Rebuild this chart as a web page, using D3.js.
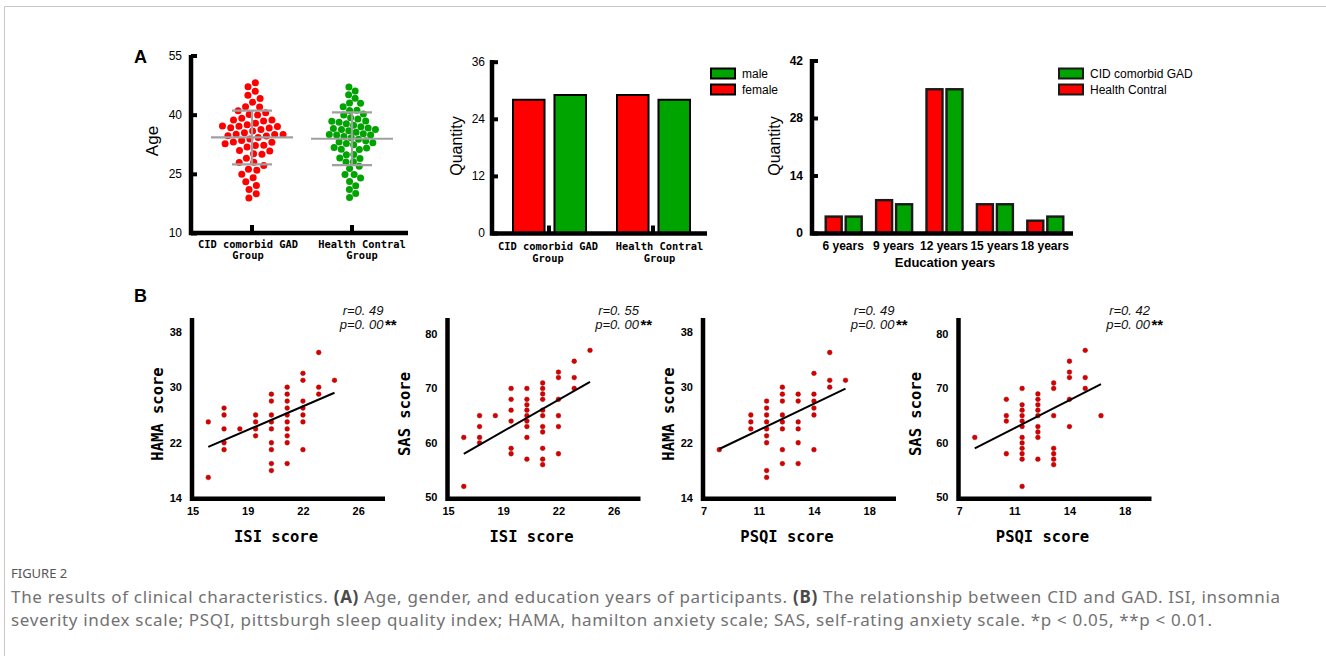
<!DOCTYPE html>
<html>
<head>
<meta charset="utf-8">
<script src="https://cdn.jsdelivr.net/npm/d3@7"></script>
<style>
  body { margin: 0; background: #fff; }
  svg { display: block; }
</style>
</head>
<body>
<script>
// ---- data ----
const groups = ['CID comorbid GAD', 'Health Contral']
const groupLines = [['CID comorbid GAD', 'Group'], ['Health Contral', 'Group']]

// ages of participants (panel A, left)
const ageCID = [19, 20, 21, 22, 23, 24, 25, 26, 26, 27, 28, 28, 29, 30, 30,
  31, 31, 32, 32, 33, 33, 34, 34, 34, 35, 35, 35, 35, 35, 35, 35, 36, 36, 36,
  37, 37, 37, 37, 38, 38, 38, 39, 39, 40, 40, 41, 42, 42, 43, 44, 45, 46, 47, 48, 38, 36, 34]
const ageHC = [19, 20, 21, 22, 23, 24, 25, 25, 26, 27, 28, 28, 29, 29, 30, 30, 31,
  31, 32, 32, 33, 33, 33, 34, 34, 35, 35, 35, 35, 35, 35, 35, 35, 36, 36, 36, 36,
  37, 37, 37, 38, 38, 38, 39, 40, 40, 41, 41, 42, 43, 43, 44, 45, 46, 47, 39, 34]
const ageTicks = [10, 25, 40, 55]

// gender (panel A, middle)
const genderKeys = ['female', 'male']
const female = [28, 29]
const male = [29, 28]
const qtyTicks = [0, 12, 24, 36]

// education (panel A, right)
const eduCats = ['6 years', '9 years', '12 years', '15 years', '18 years']
const eduHC = [4, 8, 35, 7, 3]
const eduCID = [4, 7, 35, 7, 4]
const eduTicks = [0, 14, 28, 42]

// correlations (panel B): [x, y]
const isiHama = [[16,25],[16,17],[17,27],[17,26],[17,24],[17,22],[17,21],[18,24],
  [19,26],[19,25],[19,24],[19,23],[20,29],[20,28],[20,26],[20,25],[20,24],[20,22],
  [20,21],[20,19],[20,18],[21,30],[21,29],[21,28],[21,27],[21,26],[21,25],[21,24],
  [21,23],[21,22],[21,19],[22,32],[22,31],[22,28],[22,27],[22,26],[22,25],[22,21],
  [23,35],[23,30],[23,29],[24,31]]
const isiSas = [[16,61],[16,52],[17,65],[17,63],[17,61],[17,60],[18,65],
  [19,70],[19,68],[19,66],[19,64],[19,59],[19,58],
  [20,70],[20,68],[20,67],[20,66],[20,65],[20,64],[20,63],[20,61],[20,57],
  [21,71],[21,70],[21,69],[21,68],[21,66],[21,65],[21,63],[21,62],[21,59],[21,57],[21,56],
  [22,73],[22,72],[22,68],[22,65],[22,63],[22,58],[23,75],[23,72],[23,70],[24,77]]
const psqiHama = [[8,21],[10,26],[10,25],[10,24],
  [11,28],[11,27],[11,26],[11,25],[11,24],[11,23],[11,22],[11,18],[11,17],
  [12,30],[12,29],[12,28],[12,26],[12,25],[12,24],[12,21],[12,19],
  [13,29],[13,28],[13,25],[13,24],[13,22],[13,19],
  [14,32],[14,29],[14,28],[14,27],[14,26],[14,21],[15,35],[15,31],[15,30],[16,31]]
const psqiSas = [[8,61],[10,68],[10,65],[10,64],[10,58],
  [11,70],[11,67],[11,66],[11,65],[11,64],[11,63],[11,61],[11,60],[11,59],[11,58],[11,57],[11,52],
  [12,69],[12,68],[12,67],[12,66],[12,65],[12,63],[12,62],[12,61],[12,57],
  [13,71],[13,70],[13,65],[13,59],[13,58],[13,57],[13,56],
  [14,75],[14,73],[14,72],[14,68],[14,63],[15,77],[15,72],[15,70],[16,65]]

// fitted lines: [[x start, y start], [x end, y end]]
const fitIsiHama = [[16, 21.4], [24, 29.2]]
const fitIsiSas = [[16, 58.0], [24, 71.2]]
const fitPsqiHama = [[8, 21.1], [16, 29.8]]
const fitPsqiSas = [[8, 59.0], [16, 70.8]]

const isiTicks = [15, 18.5, 22, 25.5]
const psqiTicks = [7, 10.5, 14, 17.5]
const hamaTicks = [14, 22, 30, 38]
const sasTicks = [50, 60, 70, 80]
const rLabels = ['r=0. 49', 'r=0. 55', 'r=0. 49', 'r=0. 42']
const pLabels = ['p=0. 00', 'p=0. 00', 'p=0. 00', 'p=0. 00']

const captionTitle = 'FIGURE 2'
const captionLines = [
  [['The results of clinical characteristics. ', 0], ['(A)', 1],
   [' Age, gender, and education years of participants. ', 0], ['(B)', 1],
   [' The relationship between CID and GAD. ISI, insomnia', 0]],
  [['severity index scale; PSQI, pittsburgh sleep quality index; HAMA, hamilton anxiety scale; SAS, self-rating anxiety scale. *p < 0.05, **p < 0.01.', 0]]
]

// ---- style ----
const RED = '#ff0000'
const GREEN = '#00a400'
const SANS = '"Liberation Sans", Arial, sans-serif'
const MONO = '"DejaVu Sans Mono", monospace'
const AXW = 4.5

const svg = d3.select('body').append('svg').attr('width', 1326).attr('height', 656)
svg.append('rect').attr('width', 1326).attr('height', 656).attr('fill', '#fff')
svg.append('path').attr('d', 'M4.5,656V6.5H1326').attr('fill', 'none').attr('stroke', '#c8c8c8')

// thick L shaped axis frame
function frame(g, x0, yTop, yBase, xEnd) {
  g.append('path')
    .attr('d', `M${x0},${yTop}V${yBase + AXW / 2}M${x0 - AXW / 2},${yBase}H${xEnd}`)
    .attr('stroke', '#000').attr('stroke-width', AXW).attr('fill', 'none')
}

function leftAxis(g, x0, scale, ticks, opts) {
  g.append('g').attr('transform', `translate(${x0},0)`)
    .call(d3.axisLeft(scale).tickValues(ticks).tickSize(opts.tick ? -6 : 0).tickPadding(opts.pad))
    .call(a => a.select('.domain').remove())
    .call(a => a.selectAll('line').attr('stroke', '#000').attr('stroke-width', 4))
    .call(a => a.selectAll('text').attr('font-family', SANS).attr('font-size', opts.size)
      .attr('font-weight', opts.bold ? 'bold' : 'normal').attr('fill', '#000'))
}

function yTitle(g, x, y, text, size, font, bold) {
  g.append('text').attr('transform', `translate(${x},${y}) rotate(-90)`)
    .attr('text-anchor', 'middle').attr('dy', '0.35em')
    .attr('font-family', font).attr('font-size', size)
    .attr('font-weight', bold ? 'bold' : 'normal').text(text)
}

// two-line group labels, nudged as in the original figure
function groupLabels(g, scale, y1, shifts) {
  groupLines.forEach((lines, i) => {
    const cx = scale(groups[i]) + scale.bandwidth() / 2 + shifts[i]
    const t = g.append('text').attr('x', cx)
      .attr('y', y1).attr('text-anchor', 'middle')
      .attr('font-family', MONO).attr('font-weight', 'bold').attr('font-size', 10.4)
    lines.forEach((l, j) => t.append('tspan').attr('x', cx).attr('dy', j ? 11.8 : 0).text(l))
  })
}

// panel letters
svg.append('text').attr('x', 134).attr('y', 63).attr('font-family', SANS)
  .attr('font-weight', 'bold').attr('font-size', 18).text('A')
svg.append('text').attr('x', 134).attr('y', 302).attr('font-family', SANS)
  .attr('font-weight', 'bold').attr('font-size', 18).text('B')

// ---- A1: age scatter dot plot ----
{
  const g = svg.append('g')
  const y = d3.scaleLinear().domain([10, 55]).range([233, 55.5])
  const x = d3.scaleBand().domain(groups).range([202, 402])
  const R = 3.5

  // packed dot layout: each dot held at its age, spread sideways by collision
  function swarm(values, D) {
    const nodes = values.map((v, k) => ({ v, x: (k % 2 ? 1 : -1) * 0.5, y: y(v) }))
    d3.forceSimulation(nodes)
      .force('x', d3.forceX(0).strength(0.06))
      .force('y', d3.forceY(d => y(d.v)).strength(0.9))
      .force('c', d3.forceCollide(D / 2).iterations(4))
      .stop().tick(400)
    return nodes
  }

  ;[ageCID, ageHC].forEach((ages, i) => {
    const cx = x(groups[i]) + x.bandwidth() / 2
    g.append('g').selectAll('circle').data(swarm(ages, i ? 7.4 : 8.4)).enter().append('circle')
      .attr('cx', d => cx + d.x).attr('cy', d => d.y).attr('r', R)
      .attr('fill', i ? GREEN : RED)
    const m = d3.mean(ages), sd = d3.deviation(ages)
    const lg = g.append('g').attr('stroke', '#a0a0a0').attr('stroke-width', 2.2)
    lg.append('line').attr('x1', cx - 41).attr('x2', cx + 41).attr('y1', y(m)).attr('y2', y(m))
    lg.append('line').attr('x1', cx - 20).attr('x2', cx + 20).attr('y1', y(m + sd)).attr('y2', y(m + sd))
    lg.append('line').attr('x1', cx - 20).attr('x2', cx + 20).attr('y1', y(m - sd)).attr('y2', y(m - sd))
    lg.append('line').attr('x1', cx).attr('x2', cx).attr('y1', y(m + sd)).attr('y2', y(m - sd))
  })

  frame(g, 191, 55, 233, 408)
  leftAxis(g, 191, y, ageTicks, { tick: true, pad: 9, size: 12 })
  g.append('g').attr('transform', 'translate(0,233)')
    .call(d3.axisBottom(x).tickSize(-8).tickFormat(''))
    .call(a => a.select('.domain').remove())
    .call(a => a.selectAll('line').attr('stroke', '#000').attr('stroke-width', 4))
  groupLabels(g, x, 247.5, [-4, 10])
  yTitle(g, 152, 141, 'Age', 17, SANS, false)
}

// ---- A2: gender bars ----
{
  const g = svg.append('g')
  const y = d3.scaleLinear().domain([0, 36]).range([233, 61.7])
  const x0 = d3.scaleBand().domain(groups).range([497, 705])
  const x1 = d3.scaleBand().domain(genderKeys).range([16, 89]).paddingInner(0.24)
  const rows = groups.map((gname, i) => ({ gname, vals: [female[i], male[i]] }))
  const col = { female: RED, male: GREEN }

  g.selectAll('g.grp').data(rows).enter().append('g')
    .attr('transform', d => `translate(${x0(d.gname)},0)`)
    .selectAll('rect').data(d => d.vals.map((v, k) => ({ k: genderKeys[k], v }))).enter().append('rect')
    .attr('x', d => x1(d.k)).attr('width', x1.bandwidth())
    .attr('y', d => y(d.v)).attr('height', d => y(0) - y(d.v))
    .attr('fill', d => col[d.k]).attr('stroke', '#000').attr('stroke-width', 2)

  frame(g, 492, 60, 233.5, 707)
  leftAxis(g, 492, y, qtyTicks, { tick: true, pad: 7, size: 12 })
  g.append('g').attr('transform', 'translate(0,233.5)')
    .call(d3.axisBottom(x0).tickSize(-8).tickFormat(''))
    .call(a => a.select('.domain').remove())
    .call(a => a.selectAll('line').attr('stroke', '#000').attr('stroke-width', 4))
  groupLabels(g, x0, 250, [-1, 6.5])
  yTitle(g, 456, 146, 'Quantity', 16, SANS, false)

  ;['male', 'female'].forEach((k, i) => {
    g.append('rect').attr('x', 711).attr('y', 68.5 + i * 16).attr('width', 24).attr('height', 10)
      .attr('fill', col[k]).attr('stroke', '#000').attr('stroke-width', 2)
    g.append('text').attr('x', 742).attr('y', 73.5 + i * 16).attr('dy', '0.35em')
      .attr('font-family', SANS).attr('font-size', 12).text(k)
  })
}

// ---- A3: education bars ----
{
  const g = svg.append('g')
  const y = d3.scaleLinear().domain([0, 42]).range([233, 60.5])
  const x0 = d3.scaleBand().domain(eduCats).range([818, 1070])
  const keys = ['Health Contral', 'CID comorbid GAD']
  const x1 = d3.scaleBand().domain(keys).range([7.7, 43.7]).paddingInner(0.2)
  const col = { 'Health Contral': RED, 'CID comorbid GAD': GREEN }
  const rows = eduCats.map((c, i) => ({ c, vals: [eduHC[i], eduCID[i]] }))

  g.selectAll('g.cat').data(rows).enter().append('g')
    .attr('transform', d => `translate(${x0(d.c)},0)`)
    .selectAll('rect').data(d => d.vals.map((v, k) => ({ k: keys[k], v }))).enter().append('rect')
    .attr('x', d => x1(d.k)).attr('width', x1.bandwidth())
    .attr('y', d => y(d.v)).attr('height', d => y(0) - y(d.v))
    .attr('fill', d => col[d.k]).attr('stroke', '#1a1a1a').attr('stroke-width', 2.4)

  frame(g, 812, 59, 233.5, 1073)
  leftAxis(g, 812, y, eduTicks, { tick: true, pad: 9, size: 12, bold: true })
  g.append('g').attr('transform', 'translate(0,233.5)')
    .call(d3.axisBottom(x0).tickSize(0).tickPadding(8))
    .call(a => a.select('.domain').remove())
    .call(a => a.selectAll('text').attr('font-family', SANS).attr('font-size', 12)
      .attr('font-weight', 'bold').attr('fill', '#000'))
  g.append('text').attr('x', 945).attr('y', 262).attr('dy', '0.35em').attr('text-anchor', 'middle')
    .attr('font-family', SANS).attr('font-weight', 'bold').attr('font-size', 13).text('Education years')
  yTitle(g, 774.5, 146, 'Quantity', 16, SANS, false)

  ;['CID comorbid GAD', 'Health Contral'].forEach((k, i) => {
    g.append('rect').attr('x', 1059).attr('y', 68.5 + i * 16).attr('width', 24).attr('height', 10)
      .attr('fill', col[k]).attr('stroke', '#1a1a1a').attr('stroke-width', 2)
    g.append('text').attr('x', 1090).attr('y', 73.5 + i * 16).attr('dy', '0.35em')
      .attr('font-family', SANS).attr('font-size', 12).text(k)
  })
}

// ---- B: correlation scatter plots ----
const panels = [
  { pts: isiHama, fit: fitIsiHama, xName: 'ISI score', yName: 'HAMA score', xDom: [15, 27.2], xTicks: isiTicks, yDom: [14, 40], yTicks: hamaTicks },
  { pts: isiSas, fit: fitIsiSas, xName: 'ISI score', yName: 'SAS score', xDom: [15, 27.2], xTicks: isiTicks, yDom: [50, 83], yTicks: sasTicks },
  { pts: psqiHama, fit: fitPsqiHama, xName: 'PSQI score', yName: 'HAMA score', xDom: [7, 19.2], xTicks: psqiTicks, yDom: [14, 40], yTicks: hamaTicks },
  { pts: psqiSas, fit: fitPsqiSas, xName: 'PSQI score', yName: 'SAS score', xDom: [7, 19.2], xTicks: psqiTicks, yDom: [50, 83], yTicks: sasTicks }
]

panels.forEach((p, i) => {
  const ox = 192 + i * 255.5
  const base = 498.7
  const g = svg.append('g')
  const x = d3.scaleLinear().domain(p.xDom).range([ox + 0.5, ox + 193])
  const y = d3.scaleLinear().domain(p.yDom).range(p.yDom[0] === 14 ? [498.3, 317.8] : [497.3, 317.7])

  g.append('g').selectAll('circle').data(p.pts).enter().append('circle')
    .attr('cx', d => x(d[0])).attr('cy', d => y(d[1])).attr('r', 2.4)
    .attr('fill', '#d60000').attr('stroke', '#900').attr('stroke-width', 0.4)

  g.append('path').datum(p.fit)
    .attr('d', d3.line().x(d => x(d[0])).y(d => y(d[1])))
    .attr('stroke', '#000').attr('stroke-width', 2).attr('fill', 'none')

  frame(g, ox, 318, base, ox + 193)
  leftAxis(g, ox, y, p.yTicks, { tick: false, pad: 10, size: 11, bold: true })
  g.append('g').attr('transform', `translate(0,${base})`)
    .call(d3.axisBottom(x).tickValues(p.xTicks).tickFormat(d3.format('.0f')).tickSize(0).tickPadding(9))
    .call(a => a.select('.domain').remove())
    .call(a => a.selectAll('text').attr('font-family', SANS).attr('font-size', 11)
      .attr('font-weight', 'bold').attr('fill', '#000'))

  const isHama = p.yName.startsWith('HAMA')
  yTitle(g, isHama ? ox - 34 : ox - 42.5, 414, p.yName, 15.5, MONO, true)
  g.append('text').attr('x', ox + 84).attr('y', 537).attr('dy', '0.35em').attr('text-anchor', 'middle')
    .attr('font-family', MONO).attr('font-weight', 'bold').attr('font-size', 15.5).text(p.xName)

  // r / p lines
  const ann = g.append('g').attr('font-family', SANS).attr('font-style', 'italic')
    .attr('font-size', 13).attr('text-anchor', 'end').attr('fill', '#111')
  ann.append('text').attr('x', ox + 191.5).attr('y', 314.5).text(rLabels[i])
  ann.append('text').attr('x', ox + 191.5).attr('y', 329).text(pLabels[i])
  g.append('text').attr('x', ox + 193).attr('y', 329.5).attr('font-family', SANS)
    .attr('font-weight', 'bold').attr('font-size', 15).text('**')
})

// ---- caption ----
svg.append('text').attr('x', 11).attr('y', 578).attr('font-family', '"Noto Sans", sans-serif')
  .attr('font-size', 13).attr('fill', '#555').text(captionTitle)
const captionWidths = [1269, 1201]
captionLines.forEach((segs, i) => {
  const t = svg.append('text').attr('x', 11).attr('y', 603 + i * 23)
    .attr('font-family', '"Noto Sans", sans-serif').attr('font-size', 17).attr('fill', '#727272')
    .attr('textLength', captionWidths[i]).attr('lengthAdjust', 'spacing')
  segs.forEach(s => t.append('tspan').attr('font-weight', s[1] ? 'bold' : 'normal')
    .attr('fill', s[1] ? '#4a4a4a' : null).text(s[0]))
})
</script>
</body>
</html>
